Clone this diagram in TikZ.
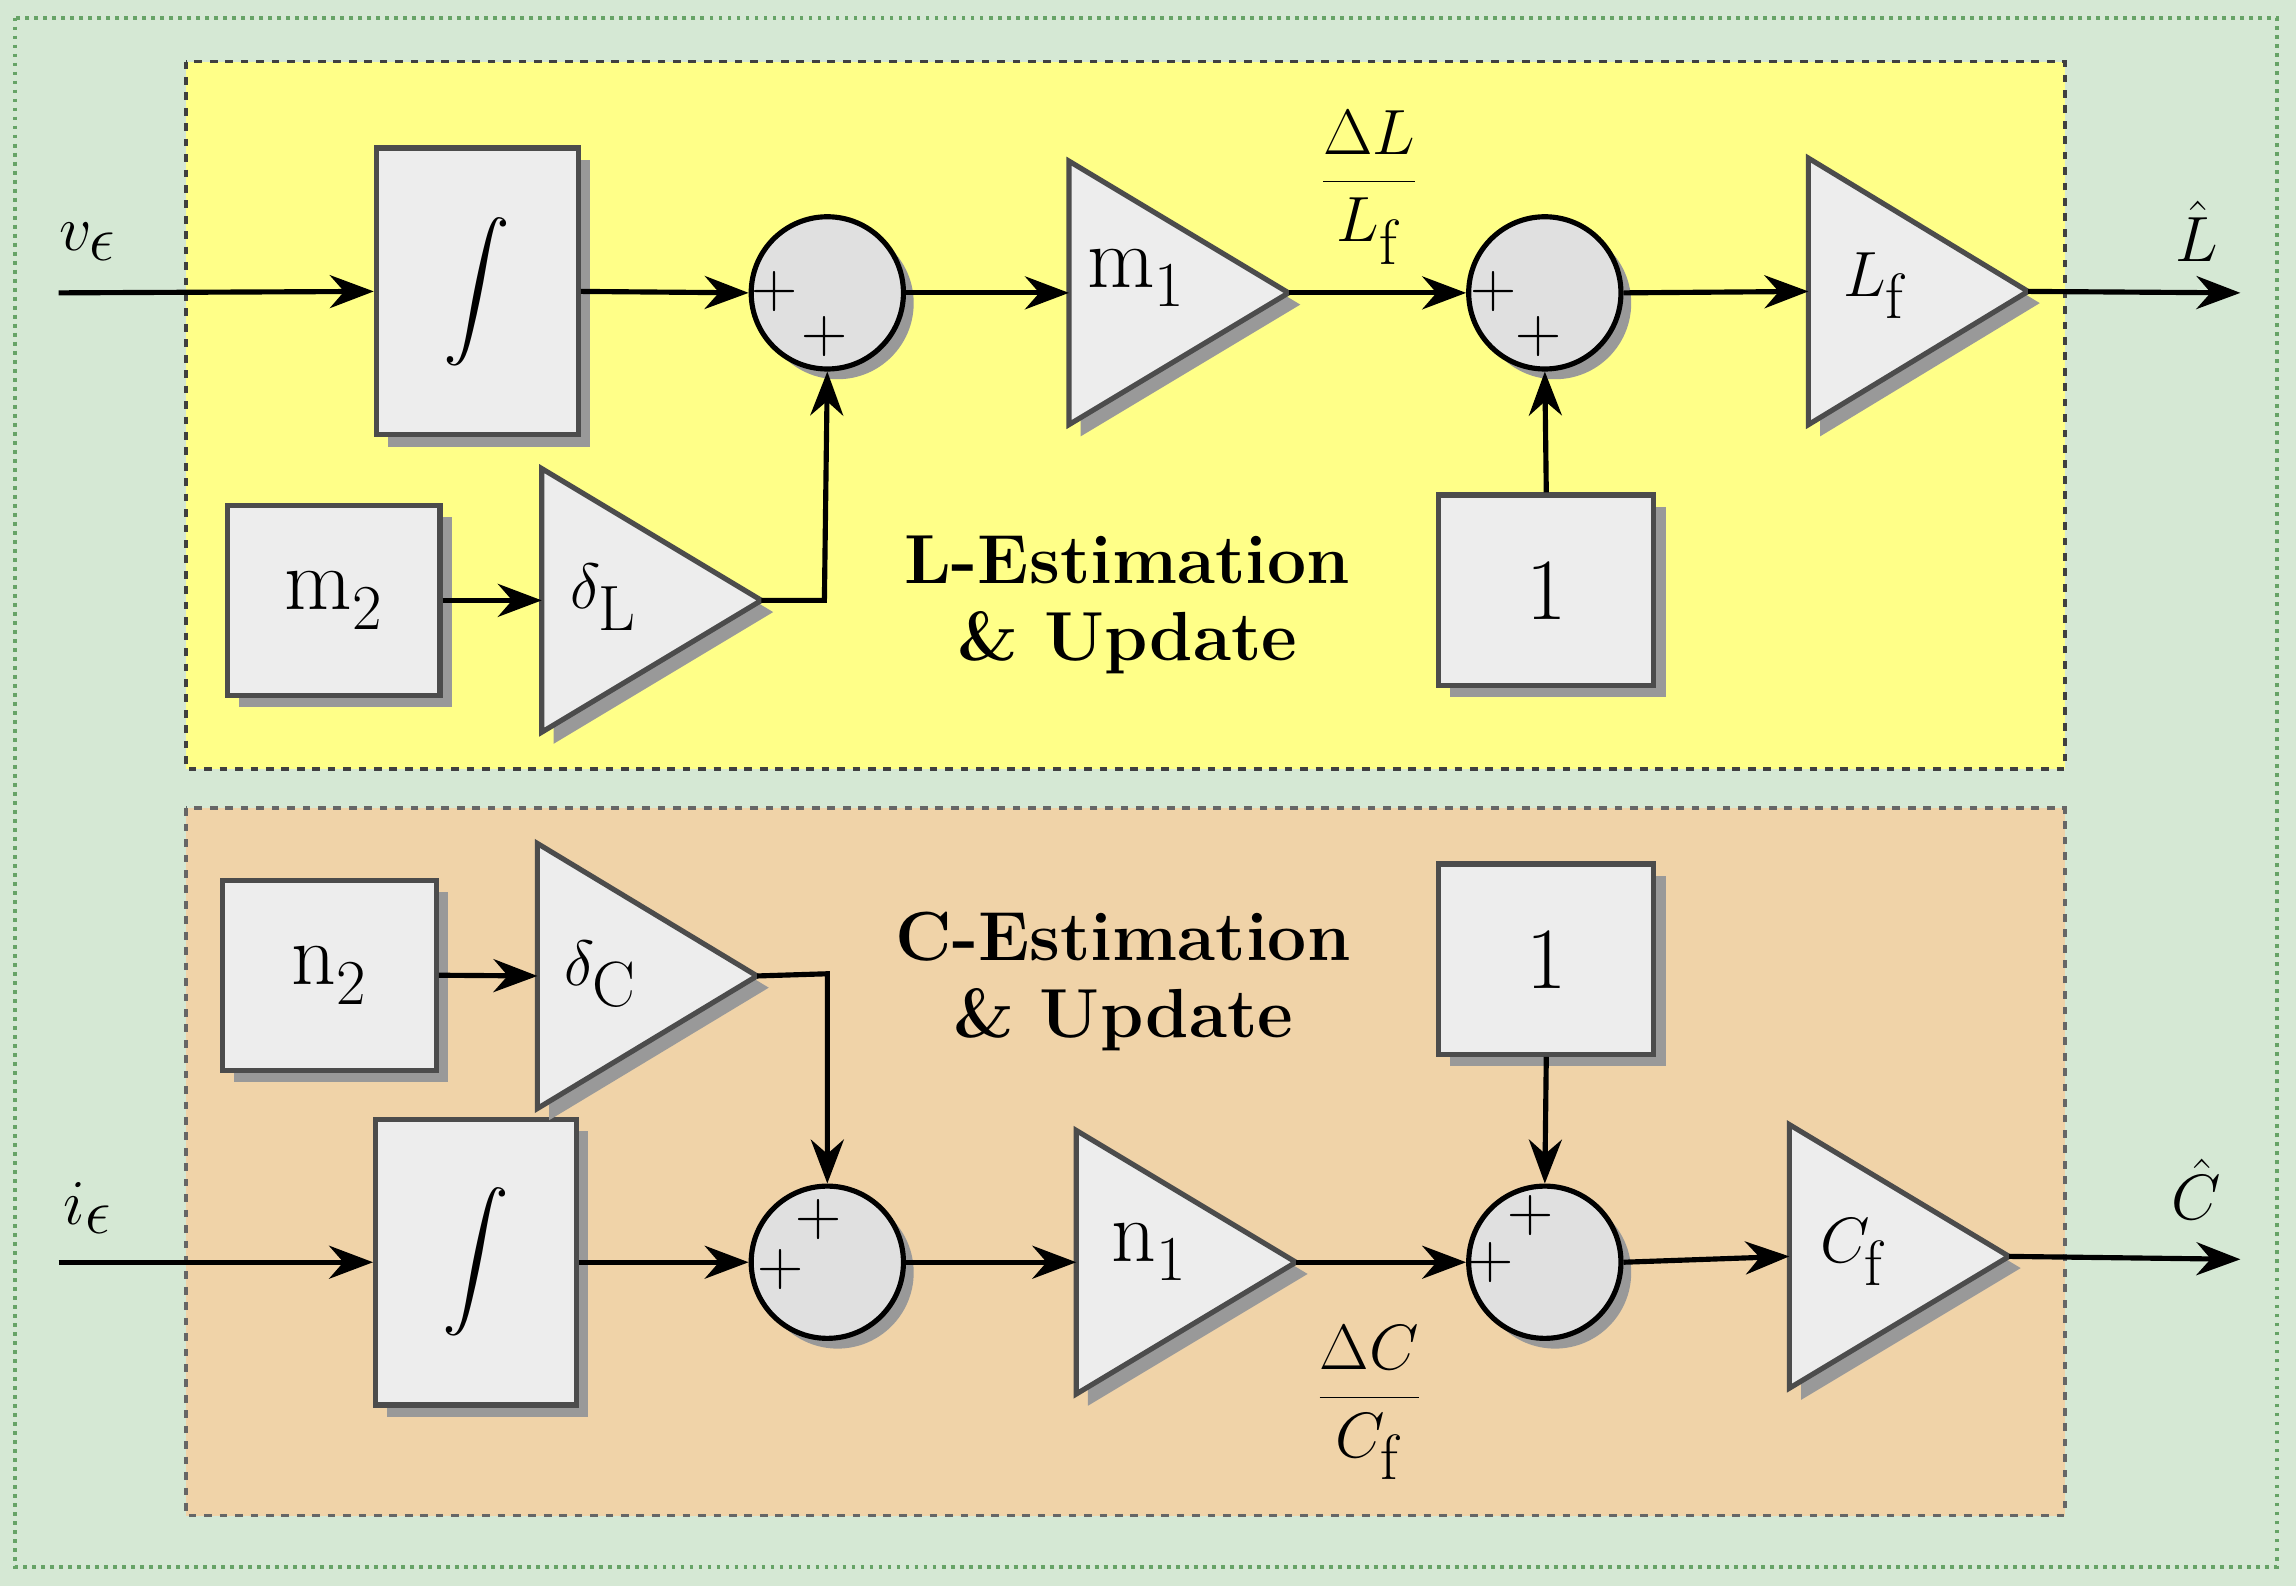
\documentclass[tikz,border=0pt]{standalone}
\usetikzlibrary{shadows,arrows.meta}
\begin{document}
\begin{tikzpicture}[x=0.02cm,y=-0.02cm,
  blk/.style={draw=black!70,line width=2pt,fill=black!7,drop shadow={shadow xshift=0.16cm,shadow yshift=-0.16cm,fill=black!40,opacity=1}},
  sumc/.style={circle,draw=black,line width=2pt,fill=black!12,minimum size=2.08cm,inner sep=0,drop shadow={shadow xshift=0.14cm,shadow yshift=-0.14cm,fill=black!40,opacity=1}},
  arr/.style={line width=2pt,-{Stealth[length=0.6cm,width=0.45cm]}},
  big/.style={font=\fontsize{34}{40}\selectfont},
  sg/.style={font=\fontsize{26}{30}\selectfont,inner sep=0},
  ttl/.style={font=\fontsize{27}{32}\selectfont\bfseries,align=center}]
\useasboundingbox (0,0) rectangle (1568,1083);
\fill[fill={rgb,255:red,213;green,232;blue,212}] (0,0) rectangle (1568,1083);
\draw[green!40!black!60,dotted,line width=1.5pt] (10,12) rectangle (1555,1070);
\draw[black!75,dashed,line width=1.5pt,fill={rgb,255:red,255;green,255;blue,136}] (127,42) rectangle (1410,525);
\draw[black!60,dashed,line width=1.5pt,fill={rgb,255:red,240;green,211;blue,168}] (127,552) rectangle (1410,1035);
\newcommand{\tri}[5]{%
  \draw[blk] (#2,#3) -- (#5,{(#3+#4)/2}) -- (#2,#4) -- cycle;
  \coordinate (#1L) at (#2,{(#3+#4)/2}); \coordinate (#1T) at (#5,{(#3+#4)/2});}
% ---------- top ----------
\node[blk,minimum width=2.76cm,minimum height=3.92cm,inner sep=0] (int1) at (326,199) {\scalebox{2.6}{$\displaystyle\int$}};
\node[sumc] (s1) at (565,200) {};
\tri{m1}{730}{110}{290}{880}
\node[big] at (776,190) {m$_1$};
\node[sumc] (s2) at (1055,200) {};
\tri{lf}{1235}{108}{290}{1385}
\node[big] at (1281,195) {$L_\mathrm{f}$};
\node[blk,minimum width=2.9cm,minimum height=2.6cm,inner sep=0,big] (m2) at (228,410) {m$_2$};
\tri{dl}{370}{320}{500}{520}
\node[big] at (412,408) {$\delta_\mathrm{L}$};
\node[blk,minimum width=2.94cm,minimum height=2.6cm,inner sep=0,big] (one1) at (1056,403) {1};
\coordinate (vin) at (40,200);
\coordinate (lout) at (1530,200);
\node[big] at (60,165) {$v_\epsilon$};
\node[big] at (1500,158) {$\hat{L}$};
\node[big] at (935,128) {$\displaystyle\frac{\Delta L}{L_\mathrm{f}}$};
\node[sg] at (529,199) {$+$};
\node[sg] at (563,230) {$+$};
\node[sg] at (1020,199) {$+$};
\node[sg] at (1051,230) {$+$};
\node[ttl] at (770,413) {L-Estimation\\[-2pt]\& Update};
\draw[arr] (vin) -- (int1.west);
\draw[arr] (int1.east) -- (s1.west);
\draw[arr] (s1.east) -- (m1L);
\draw[arr] (m1T) -- (s2.west);
\draw[arr] (s2.east) -- (lfL);
\draw[arr] (lfT) -- (lout);
\draw[arr] (m2.east) -- (dlL);
\draw[arr] (dlT) -- (563,410) -- (s1.south);
\draw[arr] (one1.north) -- (s2.south);
% ---------- bottom ----------
\node[blk,minimum width=2.74cm,minimum height=3.9cm,inner sep=0] (int2) at (325,862) {\scalebox{2.6}{$\displaystyle\int$}};
\node[sumc] (s3) at (565,862) {};
\tri{n1}{735}{772}{952}{885}
\node[big] at (785,855) {n$_1$};
\node[sumc] (s4) at (1055,862) {};
\tri{cf}{1222}{768}{948}{1372}
\node[big] at (1266,855) {$C_\mathrm{f}$};
\node[blk,minimum width=2.92cm,minimum height=2.6cm,inner sep=0,big] (n2) at (225,666) {n$_2$};
\tri{dc}{367}{576}{757}{517}
\node[big] at (410,665) {$\delta_\mathrm{C}$};
\node[blk,minimum width=2.94cm,minimum height=2.6cm,inner sep=0,big] (one2) at (1056,655) {1};
\coordinate (iin) at (40,862);
\coordinate (cout) at (1530,860);
\node[big] at (60,825) {$i_\epsilon$};
\node[big] at (1500,812) {$\hat{C}$};
\node[big] at (935,958) {$\displaystyle\frac{\Delta C}{C_\mathrm{f}}$};
\node[sg] at (559,833) {$+$};
\node[sg] at (533,867) {$+$};
\node[sg] at (1045,830) {$+$};
\node[sg] at (1018,862) {$+$};
\node[ttl] at (767,670) {C-Estimation\\[-2pt]\& Update};
\draw[arr] (iin) -- (int2.west);
\draw[arr] (int2.east) -- (s3.west);
\draw[arr] (s3.east) -- (n1L);
\draw[arr] (n1T) -- (s4.west);
\draw[arr] (s4.east) -- (cfL);
\draw[arr] (cfT) -- (cout);
\draw[arr] (n2.east) -- (dcL);
\draw[arr] (dcT) -- (565,665) -- (s3.north);
\draw[arr] (one2.south) -- (s4.north);
\end{tikzpicture}
\end{document}
